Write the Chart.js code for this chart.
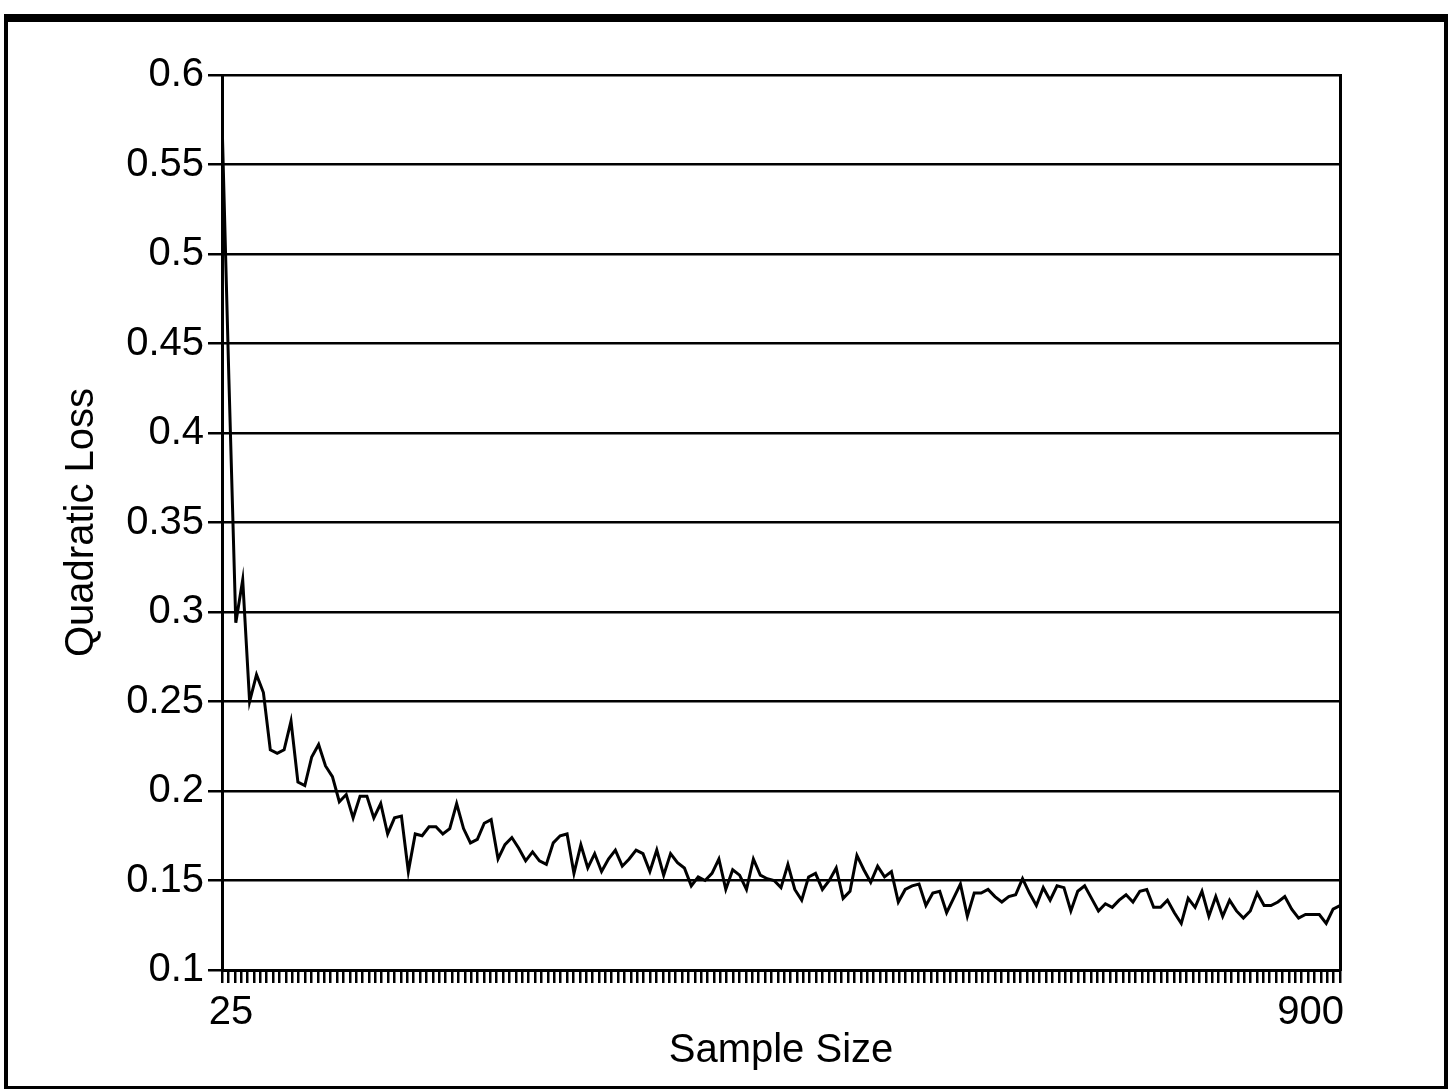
<!DOCTYPE html>
<html>
<head>
<meta charset="utf-8">
<title>Quadratic Loss vs Sample Size</title>
<script src="https://cdn.jsdelivr.net/npm/chart.js@4.4.1/dist/chart.umd.min.js"></script>
<style>
    html, body { margin: 0; padding: 0; background: #fff; }
    #wrap { position: relative; width: 1452px; height: 1089px; overflow: hidden; }
    #lossChart { position: absolute; left: 0; top: 0; }
    #frame {
        position: absolute; left: 4px; top: 14px; width: 1444px; height: 1075px;
        border-top: 8px solid #000; border-left: 4px solid #000;
        border-right: 4px solid #000; border-bottom: 3px solid #000;
        box-sizing: border-box; pointer-events: none;
    }
</style>
</head>
<body>
<div id="wrap">
    <canvas id="lossChart" width="1452" height="1089"></canvas>
    <div id="frame"></div>
</div>
<script>
// values, left to right
const lossValues = [
    0.575, 0.430, 0.294, 0.318, 0.250, 0.265, 0.255, 0.223, 0.221, 0.223,
    0.239, 0.205, 0.203, 0.219, 0.226, 0.214, 0.208, 0.194, 0.198, 0.185,
    0.197, 0.197, 0.185, 0.193, 0.176, 0.185, 0.186, 0.155, 0.176, 0.175,
    0.180, 0.180, 0.176, 0.179, 0.193, 0.179, 0.171, 0.173, 0.182, 0.184,
    0.162, 0.170, 0.174, 0.168, 0.161, 0.166, 0.161, 0.159, 0.171, 0.175,
    0.176, 0.154, 0.170, 0.157, 0.165, 0.155, 0.162, 0.167, 0.158, 0.162,
    0.167, 0.165, 0.155, 0.167, 0.153, 0.165, 0.160, 0.157, 0.147, 0.152,
    0.150, 0.154, 0.162, 0.145, 0.156, 0.153, 0.145, 0.162, 0.153, 0.151,
    0.150, 0.146, 0.159, 0.145, 0.139, 0.152, 0.154, 0.145, 0.150, 0.157,
    0.140, 0.144, 0.164, 0.156, 0.149, 0.158, 0.152, 0.155, 0.138, 0.145,
    0.147, 0.148, 0.136, 0.143, 0.144, 0.132, 0.140, 0.148, 0.130, 0.143,
    0.143, 0.145, 0.141, 0.138, 0.141, 0.142, 0.151, 0.143, 0.136, 0.146,
    0.139, 0.147, 0.146, 0.133, 0.144, 0.147, 0.140, 0.133, 0.137, 0.135,
    0.139, 0.142, 0.138, 0.144, 0.145, 0.135, 0.135, 0.139, 0.132, 0.126,
    0.140, 0.135, 0.144, 0.130, 0.141, 0.130, 0.139, 0.133, 0.129, 0.133,
    0.143, 0.136, 0.136, 0.138, 0.141, 0.134, 0.129, 0.131, 0.131, 0.131,
    0.126, 0.134, 0.136
];

const sampleMin = 25;
const sampleMax = 900;
const xTickStep = 5;
const xEdgeLabels = ['25', '900'];
const yTicks = [0.1, 0.15, 0.2, 0.25, 0.3, 0.35, 0.4, 0.45, 0.5, 0.55, 0.6];

// the points are evenly spread over the 25..900 range
const sampleSizes = lossValues.map((_, i) => sampleMin + i * (sampleMax - sampleMin) / (lossValues.length - 1));

const FONT = { family: '"Liberation Sans", Arial, Helvetica, sans-serif', size: 40 };

// only the two end values carry labels: 25 centred, 900 flush right on its tick
const edgeLabels = {
    id: 'edgeLabels',
    afterDraw(chart) {
        const x = chart.scales.x;
        const ctx = chart.ctx;
        ctx.save();
        ctx.font = FONT.size + 'px ' + FONT.family;
        ctx.fillStyle = '#000';
        ctx.textBaseline = 'middle';
        ctx.textAlign = 'center';
        ctx.fillText(xEdgeLabels[0], x.getPixelForValue(Number(xEdgeLabels[0])) + 9, x.top + 43);
        ctx.textAlign = 'right';
        ctx.fillText(xEdgeLabels[1], x.getPixelForValue(Number(xEdgeLabels[1])) + 4, x.top + 43);
        ctx.restore();
    }
};

new Chart(document.getElementById('lossChart'), {
    type: 'line',
    data: {
        datasets: [{
            data: sampleSizes.map((s, i) => ({ x: s, y: lossValues[i] })),
            borderColor: '#000',
            borderWidth: 3,
            pointRadius: 0,
            tension: 0,
            fill: false
        }]
    },
    options: {
        responsive: false,
        animation: false,
        devicePixelRatio: 1,
        layout: { padding: { top: 75, right: 112, left: 0, bottom: 0 } },
        plugins: { legend: { display: false }, tooltip: { enabled: false } },
        scales: {
            x: {
                type: 'linear',
                min: sampleMin,
                max: sampleMax,
                afterBuildTicks: s => {
                    const t = [];
                    for (let v = sampleMin; v <= sampleMax; v += xTickStep) t.push({ value: v });
                    s.ticks = t;
                },
                afterFit: s => { s.height = 119; },
                ticks: { autoSkip: false, maxRotation: 0, padding: 0, callback: () => '' },
                grid: { drawOnChartArea: false, drawTicks: true, tickLength: 13, color: '#000', lineWidth: 2.5 },
                border: { color: '#000', width: 3 },
                title: {
                    display: true, text: 'Sample Size', color: '#000',
                    font: FONT, padding: { top: 0, bottom: 14 }
                }
            },
            y: {
                type: 'linear',
                min: 0.1,
                max: 0.6,
                afterBuildTicks: s => { s.ticks = yTicks.map(v => ({ value: v })); },
                afterFit: s => { s.width = 222; },
                ticks: { color: '#000', font: FONT, padding: 4, callback: v => String(+v.toFixed(2)) },
                grid: { color: '#000', lineWidth: 2.5, tickLength: 14 },
                border: { color: '#000', width: 3 },
                title: {
                    display: true, text: 'Quadratic Loss', color: '#000',
                    font: FONT, padding: { top: 58, bottom: 0 }
                }
            },
            y2: {
                type: 'linear',
                position: 'right',
                min: 0.1,
                max: 0.6,
                afterFit: s => { s.width = 0; },
                ticks: { display: false },
                grid: { drawOnChartArea: false, drawTicks: false },
                border: { color: '#000', width: 3 }
            }
        }
    },
    plugins: [edgeLabels]
});
</script>
</body>
</html>
